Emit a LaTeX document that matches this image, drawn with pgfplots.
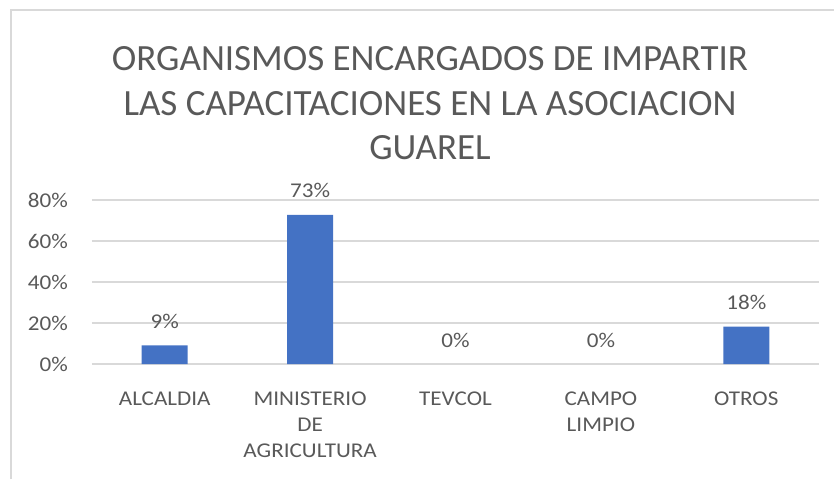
\documentclass[border=0pt]{standalone}
\usepackage{fontspec}
\setmainfont{Carlito}
\newfontfamily\lab[FakeStretch=1.1]{Carlito}
\usepackage{pgfplots}
\pgfplotsset{compat=1.18}
\definecolor{txt}{HTML}{595959}
\definecolor{grd}{HTML}{D9D9D9}
\definecolor{barc}{HTML}{4472C4}
\begin{document}
\begin{tikzpicture}
\begin{axis}[
 scale only axis, width=727pt, height=164pt,
 xmin=-0.5, xmax=4.5, ymin=0, ymax=80,
 axis line style={draw=none},
 major tick length=0pt,
 ymajorgrids, grid style={grd, line width=1.2pt},
 ytick={0,20,40,60,80},
 yticklabel={\pgfmathprintnumber{\tick}\%},
 /pgf/number format/assume math mode=true,
 yticklabel style={font=\lab\fontsize{21}{25.6}\selectfont, text=txt, anchor=east, inner sep=0pt, xshift=-24pt},
 xtick={0,1,2,3,4},
 xticklabels={ALCALDIA, MINISTERIO\\DE\\AGRICULTURA, TEVCOL, CAMPO\\LIMPIO, OTROS},
 xticklabel style={font=\lab\fontsize{21}{25.6}\selectfont, text=txt, align=center, anchor=north, inner sep=0pt, yshift=-28pt},
 clip=false,
 ybar, bar width=46pt, bar shift=0pt,
 nodes near coords={\pgfmathprintnumber[fixed,precision=0]{\pgfplotspointmeta}\%},
 every node near coord/.append style={font=\lab\fontsize{21}{25.6}\selectfont, text=txt, anchor=base, inner sep=0pt, yshift=17pt},
]
\addplot[fill=barc, draw=none] coordinates {(0,9.09) (1,72.73) (4,18.18)};
\addplot[fill=none, draw=none] coordinates {(2,0) (3,0)};
\end{axis}
\node[anchor=base, font=\fontsize{37}{44.5}\selectfont, text=txt] at (338pt,293pt) {ORGANISMOS ENCARGADOS DE IMPARTIR};
\node[anchor=base, font=\fontsize{37}{44.5}\selectfont, text=txt] at (338pt,248pt) {LAS CAPACITACIONES EN LA ASOCIACION};
\node[anchor=base, font=\fontsize{37}{44.5}\selectfont, text=txt] at (338pt,204pt) {GUAREL};
\draw[grd, line width=1.5pt] (-81pt,-115pt) -- (-81pt,354pt) -- (742pt,354pt);
\pgfresetboundingbox
\path (-92pt,-115pt) rectangle (742pt,364pt);
\end{tikzpicture}
\end{document}
